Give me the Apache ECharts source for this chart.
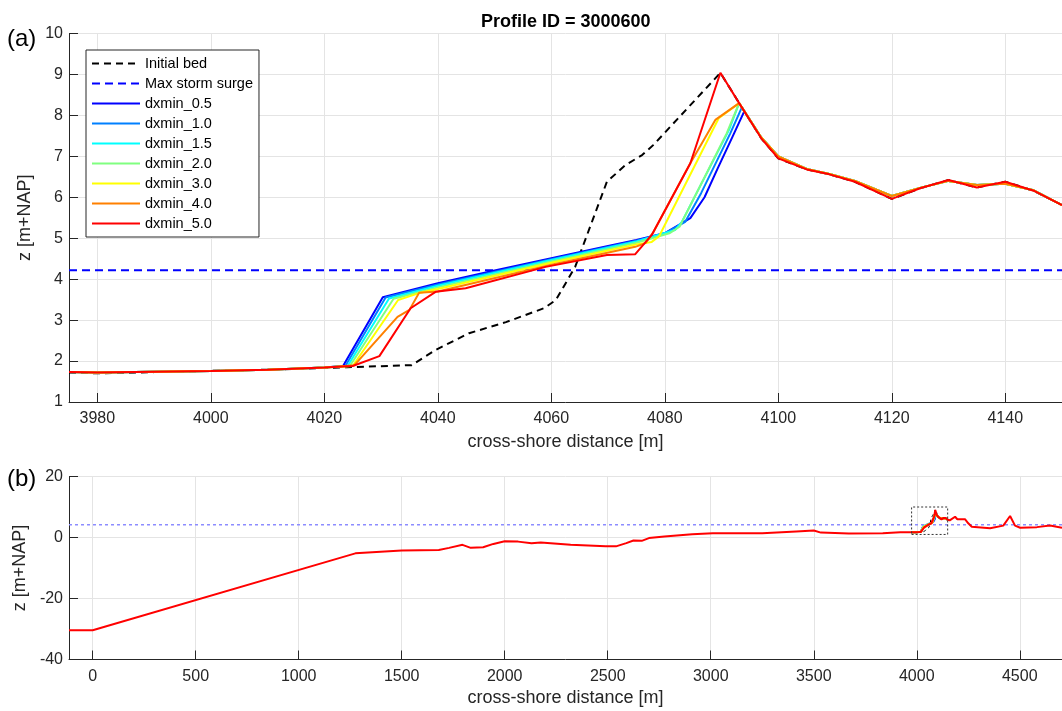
<!DOCTYPE html>
<html><head><meta charset="utf-8">
<script src="https://cdn.jsdelivr.net/npm/echarts@6/dist/echarts.min.js"></script>
<style>html,body{margin:0;padding:0;background:#fff}#c{width:1062px;height:711px}</style>
</head><body><div id="c"></div>
<script>
const FONT = '"Liberation Sans", Arial, Helvetica, sans-serif';
const titleText = 'Profile ID = 3000600';
const xName = 'cross-shore distance [m]';
const yName = 'z [m+NAP]';

const seriesNames  = ['dxmin_0.5','dxmin_1.0','dxmin_1.5','dxmin_2.0','dxmin_3.0','dxmin_4.0','dxmin_5.0'];
const seriesColors = ['#0000ff','#0080ff','#00ffff','#80ff80','#ffff00','#ff8000','#ff0000'];

const surgeLevel = 4.22;
const zoomXRange = [3975, 4150];
const zoomZRange = [1, 10];
const fullXRange = [-115, 4705];
const fullZRange = [-40, 20];

// ---- panel (a): common seaward part
const preX = [3975, 3980, 3990, 4000, 4010, 4020];
const preZ = [1.73, 1.72, 1.74, 1.76, 1.79, 1.84];

// ---- per-run middle parts (toe .. crest)
const dx05X = [4023.3, 4030.3, 4040, 4050, 4060, 4070, 4075, 4080.1, 4084.5, 4087, 4089.3, 4091.8, 4094];
const dx05Z = [1.88, 3.56, 3.90, 4.21, 4.51, 4.81, 4.96, 5.13, 5.49, 6.0, 6.7, 7.44, 8.10];
const dx10X = [4023.7, 4030.8, 4040, 4060, 4075, 4080, 4083.6, 4086.4, 4091.5, 4093.6];
const dx10Z = [1.88, 3.55, 3.87, 4.49, 4.94, 5.12, 5.40, 6.10, 7.55, 8.20];
const dx15X = [4024.1, 4031.4, 4040, 4060, 4075, 4081.8, 4083, 4091.3, 4093.1];
const dx15Z = [1.88, 3.53, 3.84, 4.47, 4.92, 5.20, 5.40, 7.64, 8.30];
const dx20X = [4024.5, 4032.2, 4040, 4060, 4075, 4080.8, 4082.6, 4090.9, 4093.1];
const dx20Z = [1.88, 3.52, 3.80, 4.43, 4.89, 5.12, 5.28, 7.56, 8.30];
const dx30X = [4025, 4033, 4036.7, 4040, 4060, 4075, 4077.7, 4079, 4089.5, 4093.1];
const dx30Z = [1.88, 3.49, 3.66, 3.76, 4.40, 4.85, 4.91, 5.05, 7.93, 8.30];
const dx40X = [4025.3, 4032.9, 4035, 4036.7, 4040, 4060, 4074.8, 4076.6, 4078, 4084.5, 4088.9, 4093.1];
const dx40Z = [1.90, 3.08, 3.25, 3.67, 3.70, 4.35, 4.79, 4.88, 5.15, 6.83, 7.89, 8.30];
const dx50X = [4025, 4029.7, 4035.2, 4039.6, 4044.9, 4059, 4069.8, 4074.8, 4077.7, 4084.5, 4089.8, 4093.1];
const dx50Z = [1.88, 2.12, 3.29, 3.69, 3.78, 4.30, 4.59, 4.61, 5.08, 6.83, 9.04, 8.30];

// ---- common landward part
const postX    = [4097, 4100, 4105, 4109, 4113.5, 4120, 4125, 4130, 4135, 4140, 4145, 4150];
const postZ    = [7.44, 6.95, 6.68, 6.56, 6.38, 5.96, 6.22, 6.42, 6.24, 6.38, 6.16, 5.81];
const postAltZ = [7.46, 7.00, 6.69, 6.57, 6.40, 6.03, 6.23, 6.40, 6.30, 6.33, 6.17, 5.81];

// ---- initial bed (panel a range)
const bedX = [3975, 3980, 3990, 4000, 4010, 4020, 4024, 4035.4, 4039.6, 4045.5, 4052, 4058.7, 4060.8, 4064.2, 4069.8, 4073.1, 4076, 4078, 4089.8, 4093.1];
const bedZ = [1.72, 1.70, 1.73, 1.76, 1.79, 1.83, 1.85, 1.90, 2.27, 2.68, 2.95, 3.29, 3.49, 4.30, 6.38, 6.79, 7.03, 7.28, 9.04, 8.30];

// ---- panel (b): full profile outside the zoom window
const offX = [-115, 0, 1275, 1500, 1680, 1730, 1795, 1835, 1895, 1945, 2000, 2065, 2130, 2175, 2320, 2490, 2540, 2590, 2625, 2665, 2700, 2775, 2910, 3010, 3250, 3415, 3500, 3535, 3670, 3835, 3920, 3970];
const offZ = [-30.4, -30.4, -5.2, -4.3, -4.1, -3.4, -2.4, -3.4, -3.2, -2.1, -1.2, -1.35, -1.9, -1.6, -2.4, -2.9, -2.9, -1.85, -1.0, -1.1, -0.2, 0.33, 1.1, 1.4, 1.4, 2.0, 2.3, 1.6, 1.3, 1.4, 1.75, 1.72];
const onX = [4160, 4186, 4197, 4234, 4250, 4267, 4356, 4420, 4453, 4477, 4502, 4583, 4647, 4705];
const onZ = [5.6, 6.8, 6.0, 6.0, 4.66, 3.5, 3.0, 3.9, 7.05, 3.9, 3.2, 3.4, 3.9, 3.2];

const midX = [dx05X, dx10X, dx15X, dx20X, dx30X, dx40X, dx50X];
const midZ = [dx05Z, dx10Z, dx15Z, dx20Z, dx30Z, dx40Z, dx50Z];

function pairs(xs, zs) { return xs.map((x, i) => [x, zs[i]]); }

const zoomProfiles = seriesNames.map((n, i) => {
  const xs = preX.concat(midX[i], postX);
  const zs = preZ.concat(midZ[i], i === 6 ? postZ : postAltZ);
  return { xs, zs };
});

const axisColor = '#262626';
const gridColor = '#e4e4e4';
const plainNum = v => String(v);

function xAxisCfg(grid, range, split, gap) {
  return {
    gridIndex: grid, type: 'value', min: range[0], max: range[1], splitNumber: split,
    axisLine: { show: true, onZero: false, lineStyle: { color: axisColor, width: 1 } },
    axisTick: { show: true, inside: true, length: 9, lineStyle: { color: axisColor } },
    axisLabel: { color: axisColor, fontSize: 16, fontFamily: FONT, margin: 9, showMinLabel: false, showMaxLabel: false, formatter: plainNum },
    splitLine: { show: true, lineStyle: { color: gridColor, width: 1 } },
    name: xName, nameLocation: 'middle', nameGap: gap,
    nameTextStyle: { color: axisColor, fontSize: 18, fontFamily: FONT }
  };
}
function yAxisCfg(grid, range, interval, gap) {
  return {
    gridIndex: grid, type: 'value', min: range[0], max: range[1], interval: interval,
    axisLine: { show: true, onZero: false, lineStyle: { color: axisColor, width: 1 } },
    axisTick: { show: true, inside: true, length: 9, lineStyle: { color: axisColor } },
    axisLabel: { color: axisColor, fontSize: 16, fontFamily: FONT, margin: 6, formatter: plainNum },
    splitLine: { show: true, lineStyle: { color: gridColor, width: 1 } },
    name: yName, nameLocation: 'middle', nameGap: gap,
    nameTextStyle: { color: axisColor, fontSize: 18, fontFamily: FONT }
  };
}

const series = [];
// panel (a)
series.push({ name: 'Initial bed', type: 'line', xAxisIndex: 0, yAxisIndex: 0, symbol: 'none',
  data: pairs(bedX.concat(postX), bedZ.concat(postZ)),
  lineStyle: { color: '#000', width: 2, type: [7, 5] }, itemStyle: { color: '#000' } });
series.push({ name: 'Max storm surge', type: 'line', xAxisIndex: 0, yAxisIndex: 0, symbol: 'none',
  data: [[zoomXRange[0], surgeLevel], [zoomXRange[1], surgeLevel]],
  lineStyle: { color: '#0000ff', width: 2, type: [8, 5] }, itemStyle: { color: '#0000ff' } });
zoomProfiles.forEach((p, i) => {
  series.push({ name: seriesNames[i], type: 'line', xAxisIndex: 0, yAxisIndex: 0, symbol: 'none',
    data: pairs(p.xs, p.zs),
    lineStyle: { color: seriesColors[i], width: 2 }, itemStyle: { color: seriesColors[i] } });
});
// panel (b)
series.push({ name: 'Initial bed', type: 'line', xAxisIndex: 1, yAxisIndex: 1, symbol: 'none',
  data: pairs(bedX.concat(postX), bedZ.concat(postZ)),
  lineStyle: { color: '#000', width: 1, type: [3, 3] }, itemStyle: { color: '#000' } });
series.push({ name: 'Max storm surge', type: 'line', xAxisIndex: 1, yAxisIndex: 1, symbol: 'none',
  data: [[fullXRange[0], surgeLevel], [fullXRange[1], surgeLevel]],
  lineStyle: { color: '#8c8cff', width: 1.5, type: [3, 3] }, itemStyle: { color: '#0000ff' } });
zoomProfiles.forEach((p, i) => {
  const last = i === zoomProfiles.length - 1;
  const xs = last ? offX.concat(p.xs, onX) : p.xs;
  const zs = last ? offZ.concat(p.zs, onZ) : p.zs;
  series.push({ name: seriesNames[i], type: 'line', xAxisIndex: 1, yAxisIndex: 1, symbol: 'none',
    data: pairs(xs, zs),
    lineStyle: { color: seriesColors[i], width: 2 }, itemStyle: { color: seriesColors[i] } });
});
series.push({ name: 'zoom window', type: 'line', xAxisIndex: 1, yAxisIndex: 1, symbol: 'none',
  data: [[zoomXRange[0], zoomZRange[0]], [zoomXRange[1], zoomZRange[0]], [zoomXRange[1], zoomZRange[1]], [zoomXRange[0], zoomZRange[1]], [zoomXRange[0], zoomZRange[0]]],
  lineStyle: { color: '#333', width: 1, type: [2, 2] } });

const chart = echarts.init(document.getElementById('c'), null, { renderer: 'canvas' });
chart.setOption({
  animation: false,
  backgroundColor: '#fff',
  textStyle: { fontFamily: FONT },
  grid: [
    { left: 69, top: 33.5, width: 994, height: 368.5, containLabel: false },
    { left: 69, top: 476.5, width: 993, height: 183, containLabel: false }
  ],
  xAxis: [ xAxisCfg(0, zoomXRange, 9, 31), xAxisCfg(1, fullXRange, 10, 30) ],
  yAxis: [ yAxisCfg(0, zoomZRange, 1, 28), yAxisCfg(1, fullZRange, 20, 31) ],
  legend: {
    data: ['Initial bed', 'Max storm surge'].concat(seriesNames),
    orient: 'vertical', left: 86, top: 50,
    itemWidth: 48, itemHeight: 14, itemGap: 5, itemTextGap: 4,
    padding: [6, 6, 6, 5],
    borderColor: axisColor, borderWidth: 1, backgroundColor: '#fff',
    itemStyle: { opacity: 0 },
    textStyle: { color: '#000', fontSize: 14.5, fontFamily: FONT, lineHeight: 14 },
    selectedMode: false
  },
  graphic: [
    { type: 'text', left: 566 - 85, top: 13, style: { text: titleText, font: 'bold 18px ' + FONT, fill: '#000' } },
    { type: 'text', left: 7, top: 27, style: { text: '(a)', font: '24px ' + FONT, fill: '#000' } },
    { type: 'text', left: 7, top: 467, style: { text: '(b)', font: '24px ' + FONT, fill: '#000' } }
  ],
  series: series
});
</script></body></html>
